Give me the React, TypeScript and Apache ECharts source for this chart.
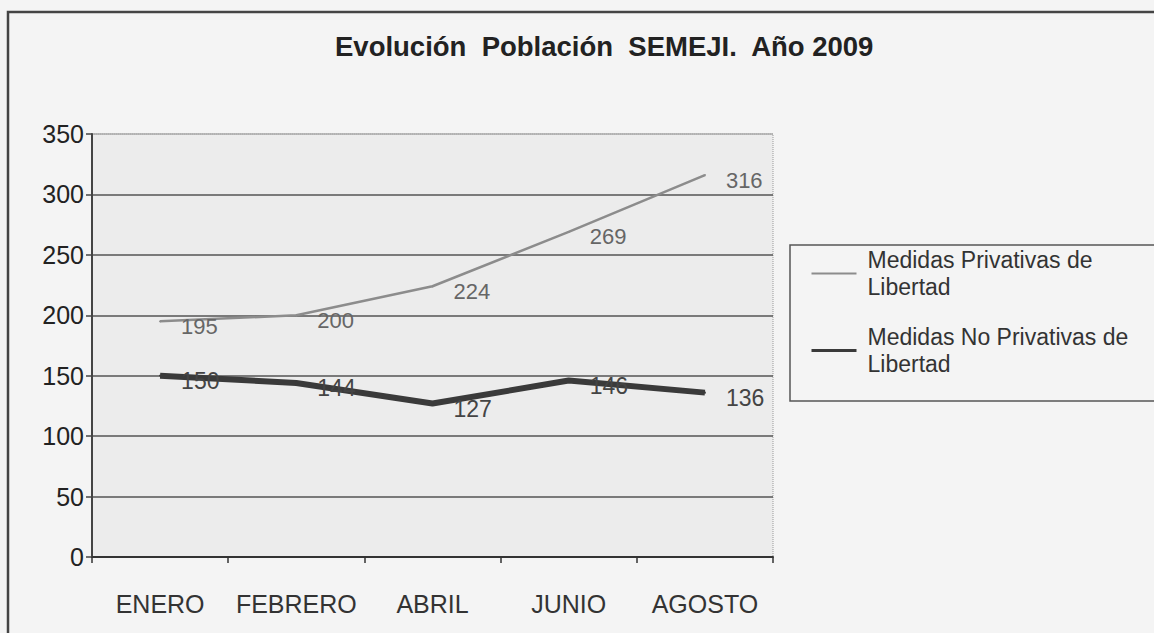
import React, { useEffect, useRef } from "react";
import * as echarts from "echarts";

const TITLE = "Evolución  Población  SEMEJI.  Año 2009";
const CATEGORIES = ["ENERO", "FEBRERO", "ABRIL", "JUNIO", "AGOSTO"];
const SERIES_NAMES = ["Medidas Privativas de Libertad", "Medidas No Privativas de Libertad"];
const PRIVATIVAS = [195, 200, 224, 269, 316];
const NO_PRIVATIVAS = [150, 144, 127, 146, 136];
const Y_MIN = 0;
const Y_MAX = 350;
const Y_INTERVAL = 50;

const FONT = 'Arial, "Liberation Sans", Helvetica, sans-serif';

export default function App() {
  const ref = useRef<HTMLDivElement>(null);
  useEffect(() => {
    if (!ref.current) return;
    const chart = echarts.init(ref.current, null, { renderer: "svg" });
    const legendFormatter = (name: string) => name.replace(" de Libertad", " de\nLibertad");
    chart.setOption({
      animation: false,
      backgroundColor: "#f4f4f4",
      textStyle: { fontFamily: FONT },
      title: {
        text: TITLE,
        left: 335,
        top: 32,
        padding: 0,
        textStyle: { fontFamily: FONT, fontSize: 27.5, fontWeight: "bold", color: "#222" },
      },
      graphic: [
        {
          type: "rect",
          shape: { x: 8, y: 12, width: 1200, height: 700 },
          style: { fill: "none", stroke: "#444", lineWidth: 2.5 },
          silent: true,
          z: 0,
        },
        {
          type: "rect",
          shape: { x: 790, y: 245, width: 420, height: 156 },
          style: { fill: "#f4f4f4", stroke: "#555", lineWidth: 1.5 },
          silent: true,
          z: 0,
        },
      ],
      legend: {
        orient: "vertical",
        left: 810,
        top: 230,
        padding: 0,
        itemWidth: 45,
        itemHeight: 14,
        itemGap: -10,
        formatter: legendFormatter,
        textStyle: {
          fontFamily: FONT,
          fontSize: 23,
          lineHeight: 27,
          color: "#333",
          padding: [33, 0, 0, 6],
        },
        data: [
          {
            name: SERIES_NAMES[0],
            itemStyle: { opacity: 0 },
            lineStyle: { width: 2, color: "#8c8c8c" },
          },
          {
            name: SERIES_NAMES[1],
            itemStyle: { opacity: 0 },
            lineStyle: { width: 3, color: "#3a3a3a" },
          },
        ],
        z: 5,
      },
      grid: {
        left: 92,
        right: 381,
        top: 134,
        bottom: 76,
        show: true,
        backgroundColor: "#ececec",
        borderColor: "#999",
        borderWidth: 1,
        borderType: "dotted",
      },
      xAxis: {
        type: "category",
        data: CATEGORIES,
        boundaryGap: true,
        axisLine: { show: true, lineStyle: { color: "#333", width: 2 } },
        axisTick: { show: true, interval: 0, alignWithLabel: false, length: 6, lineStyle: { color: "#333", width: 1.5 } },
        axisLabel: { interval: 0, fontFamily: FONT, fontSize: 25, color: "#333", margin: 34 },
        splitLine: { show: false },
      },
      yAxis: {
        type: "value",
        min: Y_MIN,
        max: Y_MAX,
        interval: Y_INTERVAL,
        axisLine: { show: true, lineStyle: { color: "#444", width: 2 } },
        axisTick: { show: true, length: 6, lineStyle: { color: "#444", width: 1.5 } },
        axisLabel: { fontFamily: FONT, fontSize: 25, color: "#222", margin: 8 },
        splitLine: {
          show: true,
          lineStyle: {
            color: ["#555", "#555", "#555", "#555", "#555", "#555", "#555", "#aaa"],
            width: 1.5,
          },
        },
      },
      series: [
        {
          name: SERIES_NAMES[0],
          type: "line",
          data: PRIVATIVAS,
          symbol: "circle",
          symbolSize: 2,
          itemStyle: { color: "#8c8c8c" },
          lineStyle: { color: "#8c8c8c", width: 2.5 },
          label: {
            show: true,
            position: "right",
            distance: 20,
            offset: [0, 5],
            fontFamily: FONT,
            fontSize: 22,
            color: "#666",
          },
          z: 3,
        },
        {
          name: SERIES_NAMES[1],
          type: "line",
          data: NO_PRIVATIVAS,
          symbol: "circle",
          symbolSize: 2,
          itemStyle: { color: "#3a3a3a" },
          lineStyle: { color: "#3a3a3a", width: 6 },
          label: {
            show: true,
            position: "right",
            distance: 20,
            offset: [0, 5],
            fontFamily: FONT,
            fontSize: 23,
            color: "#444",
          },
          z: 4,
        },
      ],
    });
    return () => chart.dispose();
  }, []);
  return <div ref={ref} style={{ width: 1154, height: 633, position: "absolute", left: 0, top: 0 }} />;
}
